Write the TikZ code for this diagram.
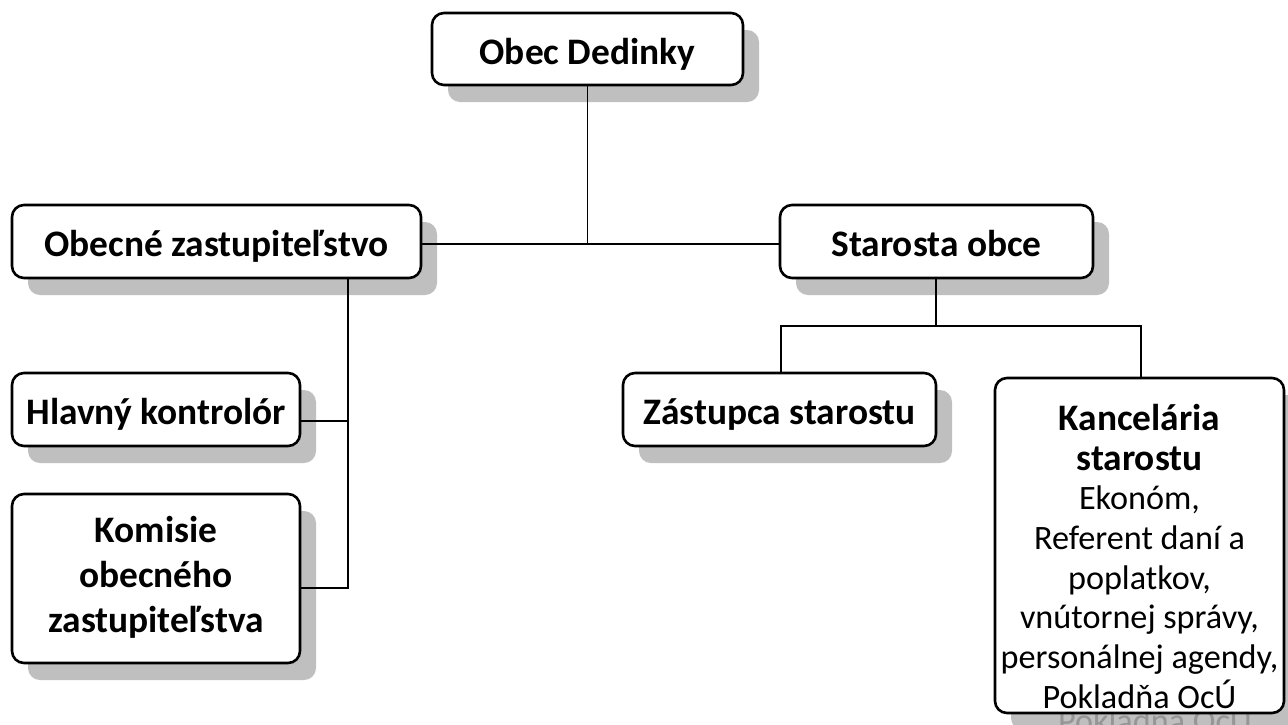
\documentclass[tikz,border=0pt]{standalone}
\usepackage{fontspec}
\setmainfont{Carlito}
\usetikzlibrary{shadows}
\definecolor{shadowgray}{RGB}{191,191,191}
\definecolor{shadowtext}{RGB}{150,150,150}
\newcommand\orgstrut{\rule[-0.18em]{0pt}{1.18em}}
\newcommand\bigbf{\bfseries\fontsize{18.7}{19.85}\selectfont}
\begin{document}
\begin{tikzpicture}[x=0.5pt,y=-0.5pt,
  orgplain/.style={draw, line width=1.3pt, rounded corners=6pt, fill=white, inner sep=0pt, align=center,
    font=\bfseries\fontsize{18.7}{22.5}\selectfont},
  orgbox/.style={orgplain,
    drop shadow={shadow xshift=8pt, shadow yshift=-8.5pt, fill=shadowgray, opacity=1}},
  link/.style={draw, line width=0.7pt}]
\useasboundingbox (0,0) rectangle (1288,724);

\node[orgbox, minimum width=155.5pt, minimum height=36pt] (D) at (587.5,49) {\orgstrut Obec Dedinky};
\node[orgbox, minimum width=204.5pt, minimum height=36.5pt] (OZ) at (216.5,241.5) {\orgstrut Obecné zastupiteľstvo};
\node[orgbox, minimum width=156.5pt, minimum height=36.5pt] (SO) at (936.5,241.5) {\orgstrut Starosta obce};
\node[orgbox, minimum width=144pt, minimum height=36.5pt] (HK) at (156,409.5) {\orgstrut Hlavný kontrolór};
\node[orgbox, minimum width=144pt, minimum height=84.5pt] (KO) at (156,578.5)
  {\rule{0pt}{15.5pt}Komisie\\obecného\\zastupiteľstva\rule[-7pt]{0pt}{0pt}};
\node[orgbox, minimum width=156.5pt, minimum height=36.5pt] (ZS) at (779.5,409.5) {\orgstrut Zástupca starostu};

% shadow of the Kancelária box, with its text showing below the box
\fill[shadowgray, rounded corners=6pt] (1011,395) rectangle (1300,730);
\node[anchor=base, inner sep=0pt, text=shadowtext, font=\fontsize{17.1}{19.85}\selectfont]
  (KAs) at (1155,732) {Pokladňa OcÚ};
\node[orgplain, minimum width=144.5pt, minimum height=167.5pt] (KA) at (1139.5,545.5) {};
\node[anchor=north, inner sep=0pt, align=center, font=\fontsize{17.1}{19.85}\selectfont]
  (KAt) at ([yshift=-13.5pt]KA.north) {{\bigbf Kancelária}\\{\bigbf starostu}\\Ekonóm,\\Referent daní a\\poplatkov,\\vnútornej správy,\\personálnej agendy,\\Pokladňa OcÚ};

\coordinate (jD) at (588,244);
\draw[link] (D) -- (D |- jD);
\draw[link] (OZ.east |- jD) -- (SO.west |- jD);

\coordinate (jL) at (348,588);
\coordinate (jH) at (348,421);
\draw[link] (OZ.south -| jL) -- (jL) -- (KO.east |- jL);
\draw[link] (jH) -- (HK.east |- jH);

\coordinate (jS) at (936,326);
\coordinate (jZ) at (781,326);
\coordinate (jK) at (1141,326);
\draw[link] (SO.south -| jS) -- (jS);
\draw[link] (ZS.north -| jZ) -- (jZ) -- (jK) -- (KA.north -| jK);
\end{tikzpicture}
\end{document}
